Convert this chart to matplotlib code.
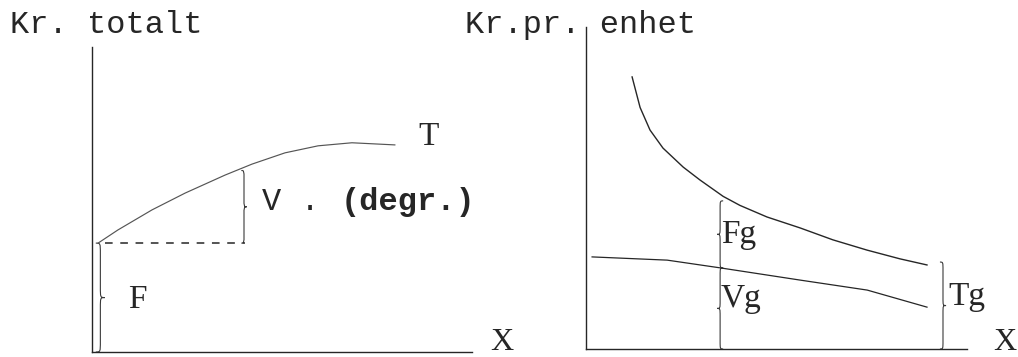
import numpy as np
import matplotlib
matplotlib.use("Agg")
import matplotlib.pyplot as plt
from matplotlib.path import Path
from matplotlib.patches import PathPatch

W, H = 1018, 357

# ---- data (arbitrary units, 0..100 on both axes) ----
# left panel: total cost curve T
t_x = [1.6, 6.8, 15.8, 24.5, 35.0, 42.1, 50.8, 59.5, 68.4, 79.7]
t_y = [35.7, 40.0, 46.6, 52.1, 58.0, 61.6, 65.3, 67.6, 68.6, 67.9]
F_level = 35.7
dash_x = [3.5, 40.3]
V_brace_x = 40.3
V_top = 59.5

# right panel: per-unit cost curves
tg_x = [12.1, 14.2, 16.8, 20.2, 25.5, 29.9, 36.0, 40.4, 47.5, 56.2, 64.8, 73.8, 82.4, 89.5]
tg_y = [84.5, 75.0, 68.0, 62.4, 56.5, 52.5, 47.4, 44.6, 41.0, 37.6, 33.9, 30.7, 28.0, 26.1]
vg_x = [1.6, 21.3, 35.2, 56.2, 73.8, 89.5]
vg_y = [28.6, 27.6, 25.2, 21.4, 18.3, 13.0]
Fg_brace_x = 35.2
Fg_top = 46.0
Tg_brace_x = 93.7
Tg_top = 27.0

ink = "#262626"
mono = "Liberation Mono"
serif = "Liberation Serif"

fig = plt.figure(figsize=(W / 100, H / 100), dpi=100)


def px_axes(x0, y0, x1, y1):
    return fig.add_axes([x0 / W, 1 - y1 / H, (x1 - x0) / W, (y1 - y0) / H])


def setup(ax):
    ax.set_xlim(0, 100)
    ax.set_ylim(0, 100)
    for s in ("top", "right"):
        ax.spines[s].set_visible(False)
    for s in ("left", "bottom"):
        ax.spines[s].set_color(ink)
        ax.spines[s].set_linewidth(1.0)
    ax.set_xticks([])
    ax.set_yticks([])
    ax.patch.set_alpha(0)


def brace(ax, x, y0, y1, a, r, s, lw=0.8, color="#3a3a3a"):
    ym = (y0 + y1) / 2
    b = x + s * a
    tip = x + s * 2 * a
    verts = [
        (x, y0), (b, y0), (b, y0), (b, y0 + r),
        (b, ym - r),
        (b, ym), (b, ym), (tip, ym),
        (b, ym), (b, ym), (b, ym + r),
        (b, y1 - r),
        (b, y1), (b, y1), (x, y1),
    ]
    codes = [Path.MOVETO, Path.CURVE4, Path.CURVE4, Path.CURVE4,
             Path.LINETO,
             Path.CURVE4, Path.CURVE4, Path.CURVE4,
             Path.CURVE4, Path.CURVE4, Path.CURVE4,
             Path.LINETO,
             Path.CURVE4, Path.CURVE4, Path.CURVE4]
    ax.add_patch(PathPatch(Path(verts, codes), fill=False, ec=color, lw=lw,
                           clip_on=False))


def ftext(px, py, s, **kw):
    fig.text(px / W, 1 - py / H, s, **kw)


# ---------------- left panel ----------------
axL = px_axes(92, 47, 472, 352)
setup(axL)
axL.plot(t_x, t_y, color="#555555", lw=0.85)
axL.plot(dash_x, [F_level, F_level], color=ink, lw=1.1, ls=(0, (5, 5)))
brace(axL, V_brace_x - 1.0, F_level, V_top, 0.7, 3.0, +1)
brace(axL, 1.0, 0, F_level, 1.2, 3.5, +1)

ftext(10, 33, "Kr. totalt", family=mono, fontsize=23, color=ink, va="baseline")
ftext(418, 145, "T", family=serif, fontsize=24, color=ink, va="baseline")
ftext(262, 210, "V . ", family=mono, fontsize=23, color=ink, va="baseline")
ftext(341, 210, "(degr.)", family=mono, fontsize=23, weight="bold", color=ink,
      va="baseline")
ftext(128, 308, "F", family=serif, fontsize=24, color=ink, va="baseline")
ftext(490, 350, "X", family=serif, fontsize=23, color=ink, va="baseline")

# ---------------- right panel ----------------
axR = px_axes(586, 27, 967, 349)
setup(axR)
axR.plot(tg_x, tg_y, color=ink, lw=1.0)
axR.plot(vg_x, vg_y, color=ink, lw=0.9)
vg_at = float(np.interp(Fg_brace_x, vg_x, vg_y))
brace(axR, Fg_brace_x + 0.8, vg_at, Fg_top, 0.8, 2.5, -1)
brace(axR, Fg_brace_x + 0.8, 0, vg_at, 0.8, 2.5, -1)
brace(axR, Tg_brace_x - 0.8, 0, Tg_top, 0.8, 2.5, +1)

ftext(465, 33, "Kr.pr. enhet", family=mono, fontsize=23, color=ink, va="baseline")
ftext(721, 243, "Fg", family=serif, fontsize=24, color=ink, va="baseline")
ftext(721, 307, "Vg", family=serif, fontsize=24, color=ink, va="baseline")
ftext(948, 305, "Tg", family=serif, fontsize=24, color=ink, va="baseline")
ftext(993, 350, "X", family=serif, fontsize=23, color=ink, va="baseline")

fig.savefig("out.png", dpi=100, facecolor="white")
